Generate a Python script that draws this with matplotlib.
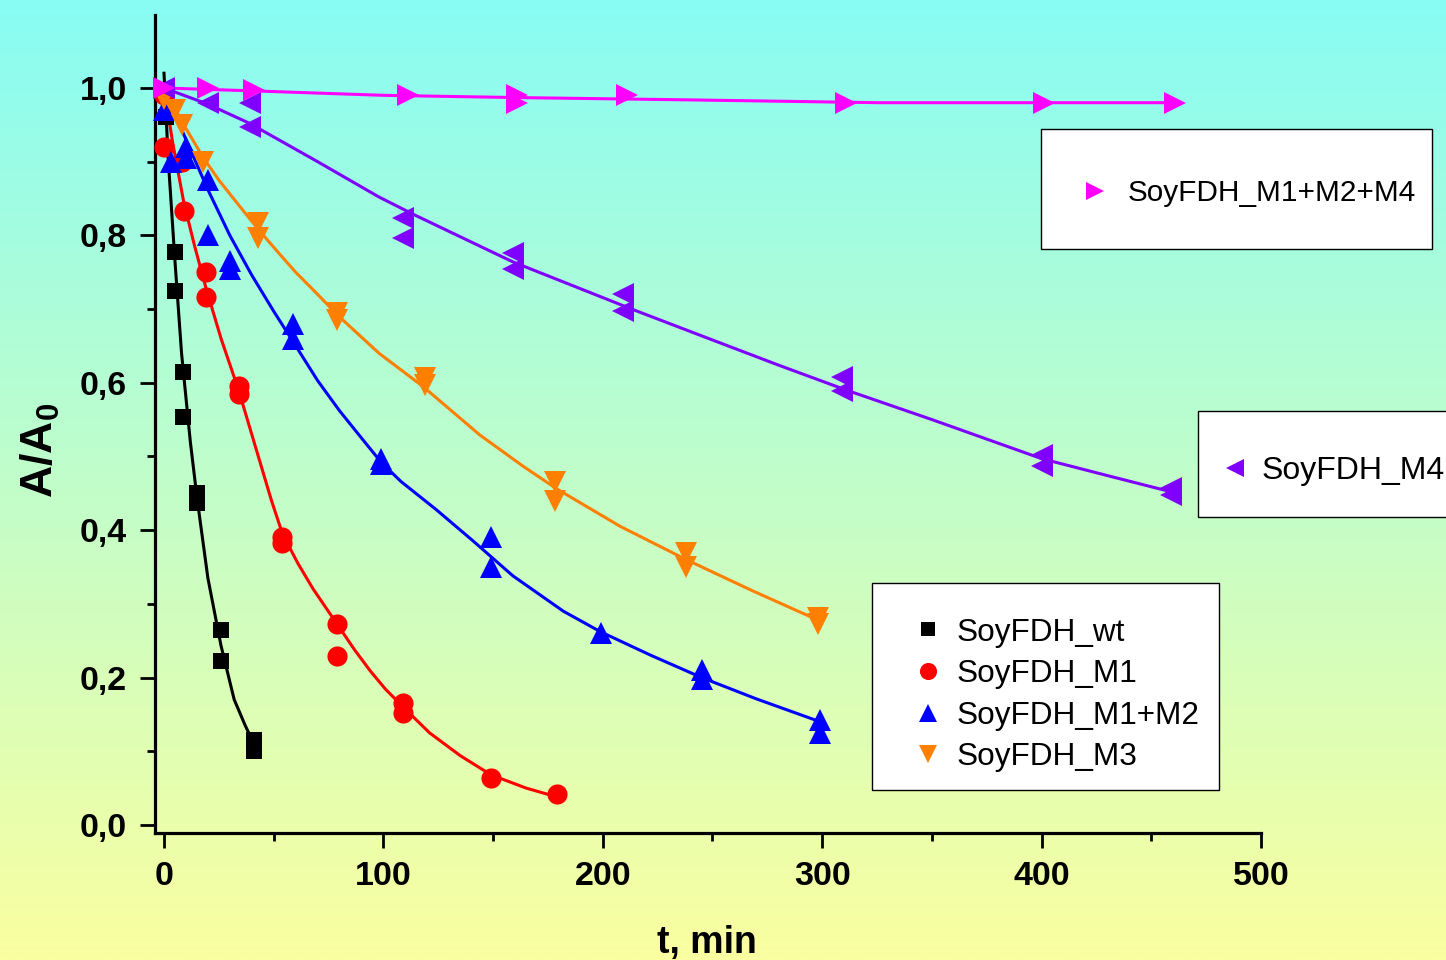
import numpy as np
import matplotlib
matplotlib.use('Agg')
import matplotlib.pyplot as plt
from matplotlib.patches import Rectangle
from matplotlib.ticker import MultipleLocator, FuncFormatter

plt.rcParams['font.family'] = ['Liberation Sans', 'DejaVu Sans']
plt.rcParams['mathtext.fontset'] = 'custom'
plt.rcParams['mathtext.rm'] = 'Liberation Sans'
plt.rcParams['mathtext.bf'] = 'Liberation Sans:bold'

W, H = 1446, 960

# measured points
wt_t = [1, 5, 5, 8.5, 8.5, 15, 15, 26, 26, 41, 41]
wt_y = [0.96, 0.777, 0.724, 0.615, 0.554, 0.45, 0.437, 0.265, 0.222, 0.115, 0.10]

m1_t = [0, 0, 8, 9, 19, 19, 34, 34, 54, 54, 79, 79, 109, 109, 149, 179]
m1_y = [0.99, 0.92, 0.90, 0.833, 0.75, 0.716, 0.596, 0.585, 0.39, 0.383, 0.273, 0.229,
        0.166, 0.152, 0.064, 0.042]

m12_t = [0, 3, 10, 10, 20, 20, 30, 30, 59, 59, 99, 99, 149, 149, 199, 245, 245, 299, 299]
m12_y = [0.97, 0.90, 0.92, 0.905, 0.875, 0.80, 0.765, 0.755, 0.68, 0.66, 0.497, 0.49,
         0.39, 0.35, 0.26, 0.21, 0.198, 0.143, 0.125]

m3_t = [0, 5, 8, 18, 43, 43, 79, 79, 119, 119, 178, 178, 238, 238, 298, 298]
m3_y = [0.985, 0.97, 0.95, 0.90, 0.817, 0.797, 0.695, 0.685, 0.607, 0.597, 0.465, 0.44,
        0.369, 0.35, 0.281, 0.272]

m4_t = [0, 20, 39, 39, 109, 109, 159, 159, 209, 209, 309, 309, 400, 400, 459, 459]
m4_y = [1.0, 0.98, 0.98, 0.947, 0.823, 0.796, 0.776, 0.754, 0.721, 0.697, 0.608, 0.589,
        0.502, 0.487, 0.457, 0.448]

m124_t = [0, 20, 41, 111, 161, 161, 211, 311, 401, 461]
m124_y = [1.0, 1.0, 0.997, 0.99, 0.99, 0.979, 0.99, 0.98, 0.98, 0.98]

# fitted curves
wt_ct = [0, 2, 5, 8, 12, 15, 20, 26, 32, 37, 41]
wt_cy = [1.02, 0.9, 0.765, 0.64, 0.52, 0.445, 0.335, 0.243, 0.17, 0.135, 0.11]

m1_ct = [0, 4, 9, 14, 19, 26, 34, 39, 44, 49, 54, 61, 68, 79, 87, 94, 101, 109,
         121, 135, 149, 165, 179]
m1_cy = [1.0, 0.925, 0.845, 0.785, 0.73, 0.66, 0.59, 0.54, 0.49, 0.44, 0.395, 0.355,
         0.32, 0.272, 0.237, 0.209, 0.184, 0.16, 0.125, 0.094, 0.068, 0.05, 0.038]

m12_ct = [0, 10, 20, 30, 40, 50, 59, 70, 80, 90, 99, 108, 124, 141, 159, 182, 199,
          222, 245, 270, 299]
m12_cy = [1.0, 0.93, 0.862, 0.8, 0.746, 0.697, 0.655, 0.603, 0.562, 0.525, 0.492,
          0.466, 0.428, 0.385, 0.338, 0.29, 0.262, 0.23, 0.2, 0.171, 0.14]

m3_ct = [0, 5, 10, 18, 25, 33, 43, 52, 60, 70, 79, 98, 118, 144, 164, 179, 208,
         238, 268, 298]
m3_cy = [1.0, 0.972, 0.945, 0.905, 0.875, 0.845, 0.808, 0.777, 0.75, 0.72, 0.692,
         0.64, 0.595, 0.529, 0.486, 0.456, 0.405, 0.36, 0.318, 0.278]

m4_ct = [0, 20, 39, 70, 98, 114, 159, 214, 250, 280, 311, 350, 400, 430, 459]
m4_cy = [1.0, 0.978, 0.952, 0.9, 0.852, 0.828, 0.764, 0.699, 0.658, 0.624, 0.59,
         0.55, 0.497, 0.474, 0.452]

m124_ct = [0, 20, 41, 100, 160, 235, 326, 400, 463]
m124_cy = [1.0, 0.998, 0.996, 0.99, 0.987, 0.984, 0.98, 0.98, 0.98]

labels = ['SoyFDH_wt', 'SoyFDH_M1', 'SoyFDH_M1+M2', 'SoyFDH_M3',
          'SoyFDH_M4', 'SoyFDH_M1+M2+M4']


def fx(x):
    return x / W


def fy(y):
    return 1 - y / H


fig = plt.figure(figsize=(W / 100, H / 100), dpi=100)

# background gradient
bg = fig.add_axes([0, 0, 1, 1])
top = np.array([136, 252, 244]) / 255
bot = np.array([250, 255, 160]) / 255
g = np.linspace(0, 1, 256)[:, None, None]
grad = top * (1 - g) + bot * g
bg.imshow(grad, aspect='auto', extent=[0, 1, 0, 1], interpolation='bilinear')
bg.axis('off')

ax = fig.add_axes([fx(155), fy(833), fx(1261 - 155), (833 - 15) / H])
ax.patch.set_alpha(0)

series = [
    (wt_t, wt_y, wt_ct, wt_cy, 'black', 's', 12),
    (m1_t, m1_y, m1_ct, m1_cy, '#ff0000', 'o', 14.5),
    (m12_t, m12_y, m12_ct, m12_cy, '#0000ff', '^', 16),
    (m3_t, m3_y, m3_ct, m3_cy, '#ff8000', 'v', 16),
    (m4_t, m4_y, m4_ct, m4_cy, '#8000ff', '<', 16),
    (m124_t, m124_y, m124_ct, m124_cy, '#ff00ff', '>', 16),
]

handles = []
for t, y, ct, cy, c, mk, ms in series:
    ax.plot(ct, cy, color=c, lw=2.2, zorder=2)
    h, = ax.plot(t, y, ls='none', marker=mk, ms=ms, color=c, mec=c, mew=0,
                 zorder=3, clip_on=False)
    handles.append(h)

ax.set_xlim(-4.1, 500)
ax.set_ylim(-0.011, 1.099)
ax.spines['top'].set_visible(False)
ax.spines['right'].set_visible(False)
for s in ['left', 'bottom']:
    ax.spines[s].set_linewidth(2.3)

ax.xaxis.set_major_locator(MultipleLocator(100))
ax.xaxis.set_minor_locator(MultipleLocator(50))
ax.yaxis.set_major_locator(MultipleLocator(0.2))
ax.yaxis.set_minor_locator(MultipleLocator(0.1))
ax.yaxis.set_major_formatter(FuncFormatter(lambda v, p: f'{v:.1f}'.replace('.', ',')))
ax.tick_params(which='major', direction='out', length=11, width=2, pad=9,
               labelsize=24.5)
ax.tick_params(which='minor', direction='out', length=6, width=2)
for lab in ax.get_xticklabels() + ax.get_yticklabels():
    lab.set_fontweight('bold')

ax.set_xlabel('t, min', fontsize=27, fontweight='bold', va='top')
ax.xaxis.set_label_coords(0.499, -0.112)
ax.set_ylabel(r'A/A$_\mathbf{0}$', fontsize=32, fontweight='bold')
ax.yaxis.set_label_coords(-0.084, 0.468)

# legend boxes
boxes = [(1041, 129, 1432, 249), (1198, 411, 1470, 517), (872, 583, 1219, 790)]
for x0, y0, x1, y1 in boxes:
    fig.patches.append(Rectangle((fx(x0), fy(y1)), fx(x1 - x0), (y1 - y0) / H,
                                 transform=fig.transFigure, facecolor='white',
                                 edgecolor='black', lw=1.0, zorder=1))

leg_kw = dict(loc='center left', frameon=False, borderpad=0, borderaxespad=0,
              handlelength=1.0, bbox_transform=fig.transFigure, markerscale=0.85)
fig.legend(handles[5:6], labels[5:6], bbox_to_anchor=(fx(1080), fy(193)),
           fontsize=21.4, handletextpad=0.6, **leg_kw)
fig.legend(handles[4:5], labels[4:5], bbox_to_anchor=(fx(1219), fy(471)),
           fontsize=23, handletextpad=0.34, **leg_kw)
fig.legend(handles[0:4], labels[0:4], bbox_to_anchor=(fx(912), fy(695)),
           fontsize=22.7, handletextpad=0.4, labelspacing=0.37, **leg_kw)

fig.savefig('out.png', dpi=100)
